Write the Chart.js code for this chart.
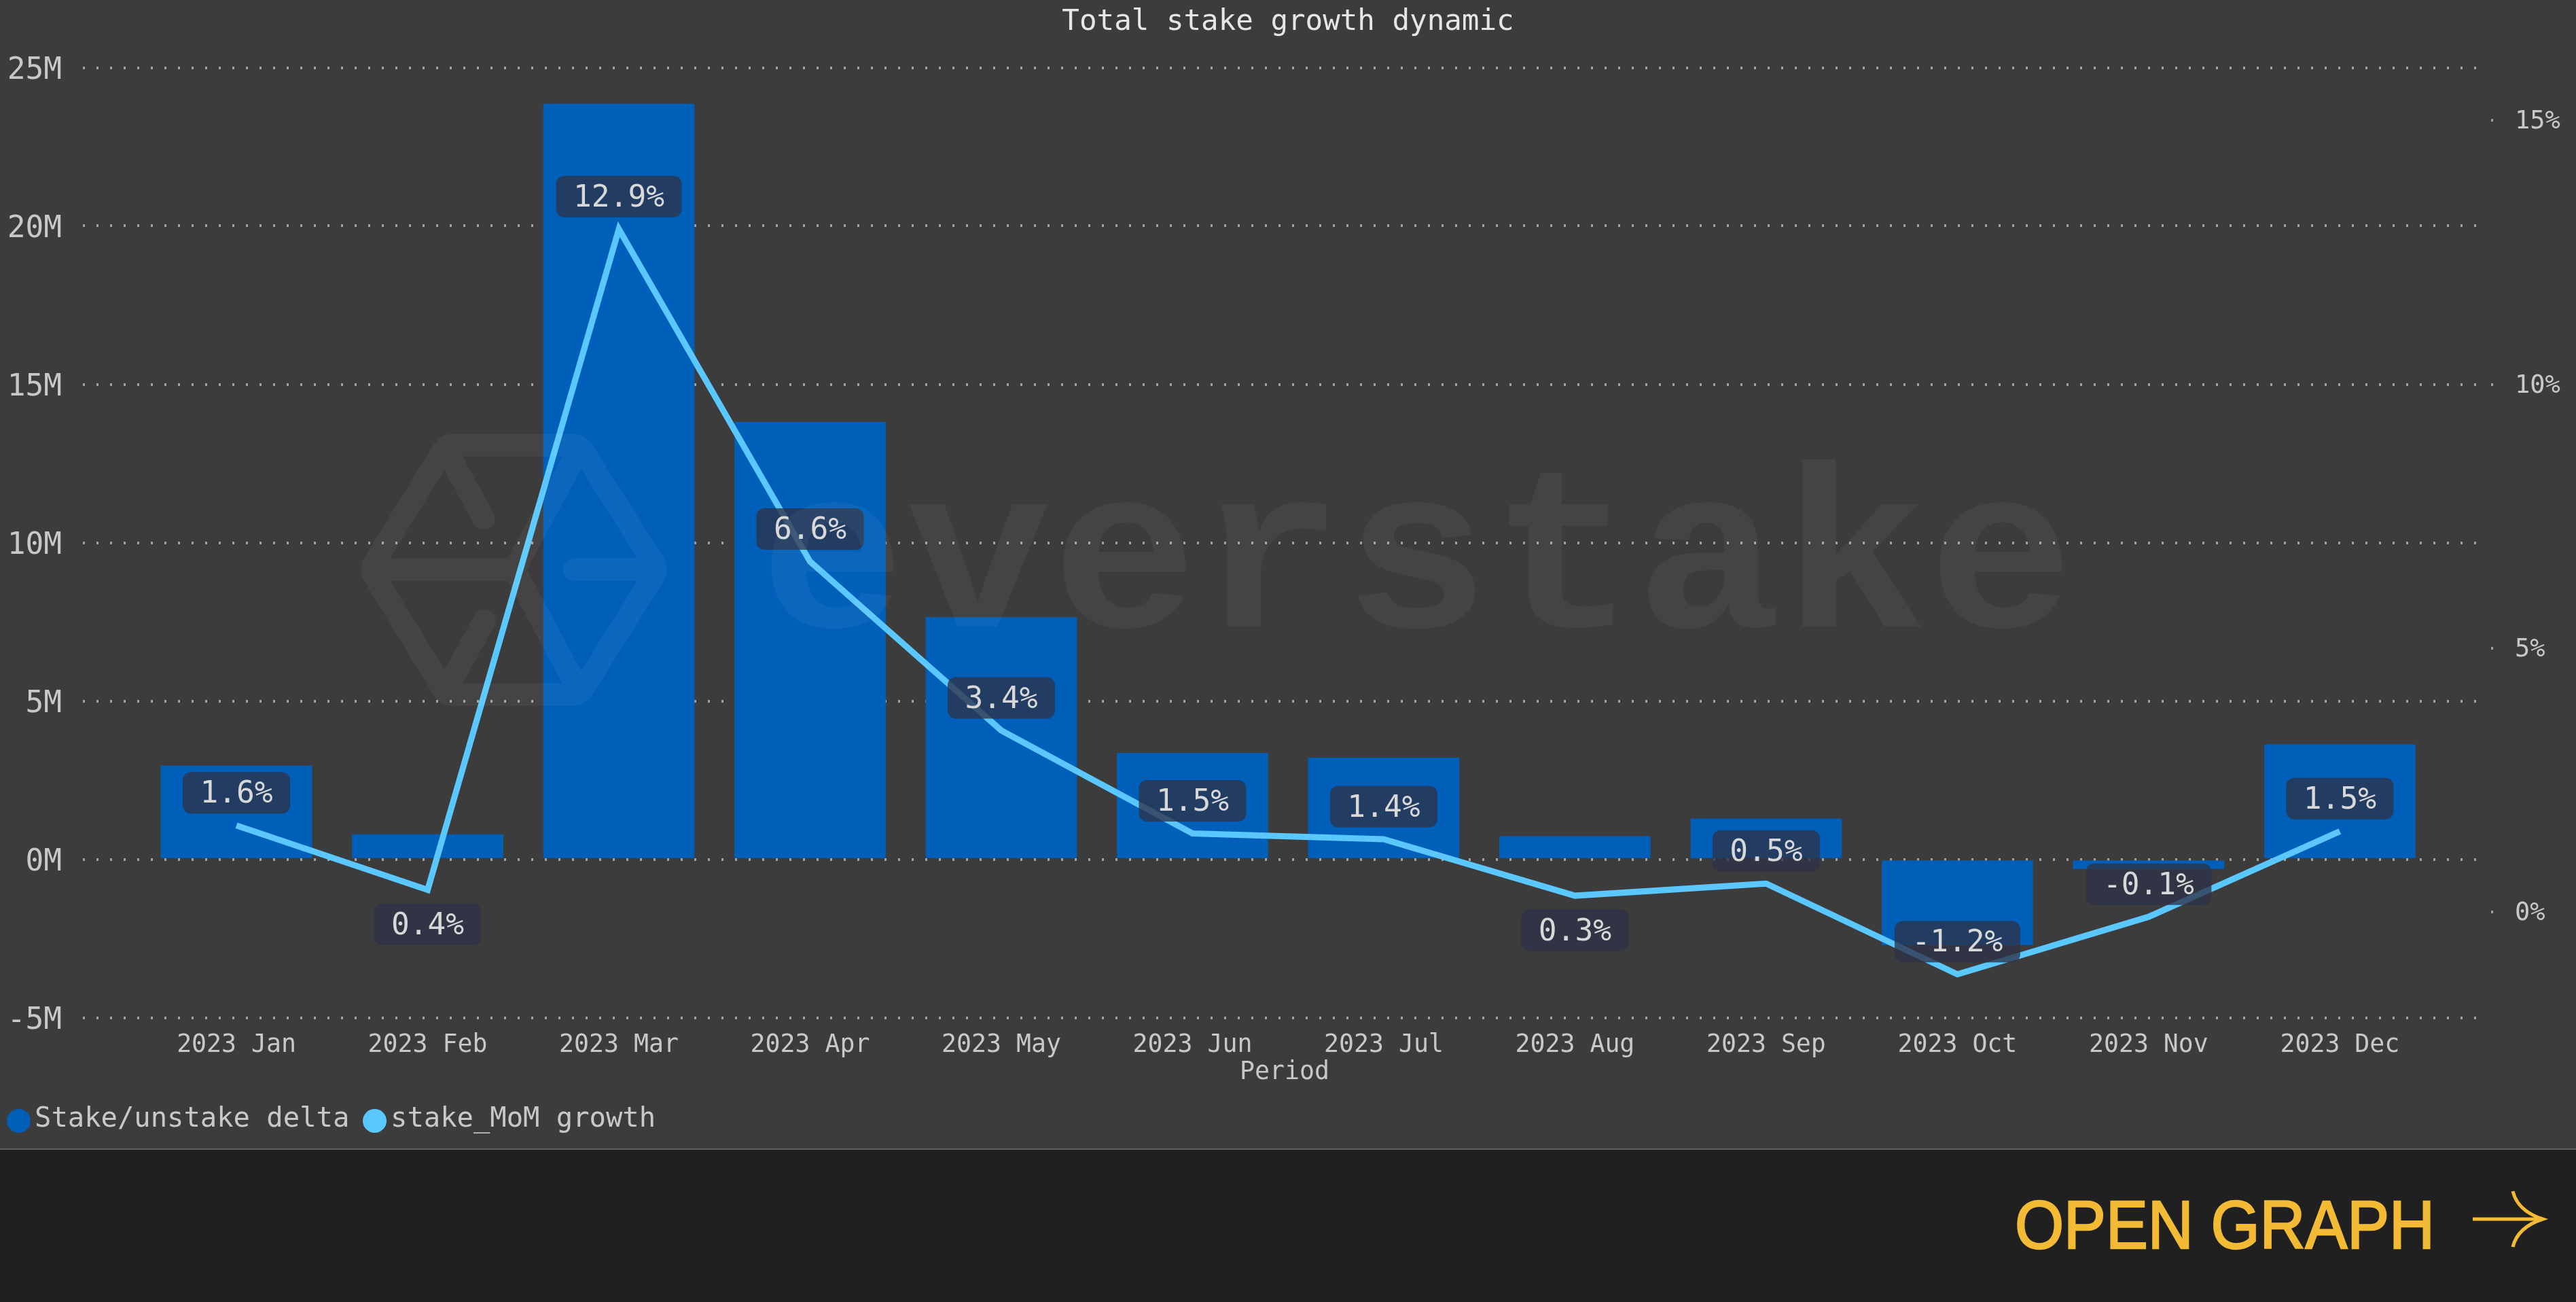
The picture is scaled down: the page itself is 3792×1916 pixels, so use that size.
<!DOCTYPE html>
<html>
<head>
<meta charset="utf-8">
<title>Total stake growth dynamic</title>
<script src="https://cdn.jsdelivr.net/npm/chart.js@4"></script>
<style>
  html, body { margin: 0; padding: 0; background: #202020; }
  #page { position: relative; width: 3792px; height: 1916px; overflow: hidden; }
  #panel { position: absolute; left: 0; top: 0; width: 3792px; height: 1690px; background: #3c3c3c; }
  #panel canvas { display: block; }
  #rule { position: absolute; left: 0; top: 1690px; width: 3792px; height: 2px; background: #5e5e5e; }
  .legend-dot { position: absolute; top: 1632px; width: 35px; height: 35px; border-radius: 50%; }
  .legend-text { position: absolute; top: 1620px; font: 40.5px/48px "DejaVu Sans Mono", monospace; color: #c8c8c8; white-space: pre; }
  #overlay { position: absolute; left: 0; top: 0; pointer-events: none; }
</style>
</head>
<body>
<div id="page">
  <div id="panel"><canvas id="stakeChart" width="3792" height="1690"></canvas></div>
  <div id="rule"></div>

  <div class="legend-dot" id="legendDotBars" style="left: 10px"></div>
  <div class="legend-text" id="legendTextBars" style="left: 51px"></div>
  <div class="legend-dot" id="legendDotLine" style="left: 534px"></div>
  <div class="legend-text" id="legendTextLine" style="left: 575px"></div>

  <svg id="overlay" width="3792" height="1916" viewBox="0 0 3792 1916">
    <!-- watermark sits above the chart, it tints bars and labels too -->
    <g opacity="0.045" fill="none" stroke="#fff" stroke-width="33" stroke-linecap="round" stroke-linejoin="round">
      <path d="M 668 655 L 842 655 Q 853 655 859 665 L 962 828 Q 968 838 962 848 L 859 1012 Q 853 1022 842 1022 L 668 1022 Q 657 1022 651 1012 L 551 848 Q 545 838 551 828 L 651 665 Q 657 655 668 655 Z"/>
      <path d="M 660 668 L 712 763"/>
      <path d="M 660 1010 L 713 913"/>
      <path d="M 550 838 L 757 838"/>
      <path d="M 853 660 L 757 838 L 853 1018"/>
      <path d="M 845 838 L 960 838"/>
    </g>
    <text x="1118" y="922" textLength="1935" lengthAdjust="spacingAndGlyphs" font-family="Liberation Mono" font-weight="700" font-size="340" fill="#fff" fill-opacity="0.045">everstake</text>

    <text x="2966" y="1837" textLength="618" lengthAdjust="spacingAndGlyphs" font-family="Liberation Sans Narrow, Liberation Sans" font-weight="400" font-size="101" fill="#f3bb35" stroke="#f3bb35" stroke-width="2.5">OPEN GRAPH</text>
    <g fill="none" stroke="#f3bb35" stroke-width="5">
      <path d="M 3640 1794 L 3743 1794"/>
      <path d="M 3699 1753 Q 3706 1782 3743 1794 Q 3706 1806 3699 1835"/>
    </g>
  </svg>
</div>

<script>
const chartTitle = 'Total stake growth dynamic';
const xAxisTitle = 'Period';

const categories = ['2023 Jan', '2023 Feb', '2023 Mar', '2023 Apr', '2023 May', '2023 Jun',
  '2023 Jul', '2023 Aug', '2023 Sep', '2023 Oct', '2023 Nov', '2023 Dec'];

// Stake/unstake delta, millions
const deltaValues = [2.95, 0.78, 23.85, 13.8, 7.64, 3.35, 3.2, 0.72, 1.28, -2.7, -0.3, 3.62];
// stake_MoM growth, percent
const growthValues = [1.64, 0.42, 12.94, 6.64, 3.44, 1.49, 1.38, 0.31, 0.54, -1.18, -0.09, 1.53];

const leftTicks = [-5, 0, 5, 10, 15, 20, 25];
const rightTicks = [0, 5, 10, 15];

const barsLabel = 'Stake/unstake delta';
const lineLabel = 'stake_MoM growth';
const labelsBelow = ['2023 Feb', '2023 Aug'];

const BAR_COLOR = '#0060b9';
const LINE_COLOR = '#5ac8ff';
const TICK_COLOR = '#c8c8c8';
const DOT_COLOR = 'rgba(205, 205, 205, 0.7)';
const MONO = '"DejaVu Sans Mono", monospace';

// legend is plain html, built-in one can't get the dot this close to the text
document.getElementById('legendDotBars').style.background = BAR_COLOR;
document.getElementById('legendDotLine').style.background = LINE_COLOR;
document.getElementById('legendTextBars').textContent = barsLabel;
document.getElementById('legendTextLine').textContent = lineLabel;

// percent pills over the line
const pillLabels = {
  id: 'pillLabels',
  afterDatasetsDraw(chart) {
    const ctx = chart.ctx;
    const points = chart.getDatasetMeta(0).data;
    ctx.save();
    ctx.font = '44.5px ' + MONO;
    ctx.textAlign = 'center';
    ctx.textBaseline = 'middle';
    points.forEach((point, i) => {
      const text = growthValues[i].toFixed(1) + '%';
      const below = labelsBelow.includes(categories[i]);
      const cy = point.y + (below ? 51 : -48);
      const w = ctx.measureText(text).width + 51;
      ctx.fillStyle = 'rgba(45, 50, 72, 0.78)';
      ctx.beginPath();
      ctx.roundRect(point.x - w / 2, cy - 30.5, w, 61, 12);
      ctx.fill();
      ctx.fillStyle = '#d8d8d8';
      ctx.fillText(text, point.x, cy + 3);
    });
    ctx.restore();
  }
};

new Chart(document.getElementById('stakeChart'), {
  type: 'bar',
  data: {
    datasets: [
      {
        type: 'line',
        label: lineLabel,
        data: growthValues.map((v, i) => ({ x: i, y: v })),
        yAxisID: 'y2',
        borderColor: LINE_COLOR,
        borderWidth: 9,
        borderJoinStyle: 'miter',
        pointRadius: 0,
        tension: 0,
        order: 0
      },
      {
        type: 'bar',
        label: barsLabel,
        data: deltaValues.map((v, i) => ({ x: i, y: v })),
        yAxisID: 'y',
        backgroundColor: BAR_COLOR,
        barThickness: 222,
        order: 1
      }
    ]
  },
  options: {
    responsive: false,
    animation: false,
    devicePixelRatio: 1,
    layout: { autoPadding: false, padding: 0 },
    plugins: {
      legend: { display: false },
      tooltip: { enabled: false },
      title: {
        display: true,
        text: chartTitle,
        color: '#e6e6e6',
        font: { family: MONO, size: 42.5, weight: 'normal' },
        padding: { top: 7.5, bottom: 41 }
      }
    },
    scales: {
      x: {
        type: 'linear',
        offset: false,
        min: -0.803,
        max: 11.766,
        afterBuildTicks: axis => { axis.ticks = categories.map((_, i) => ({ value: i })); },
        afterFit: axis => { axis.height = 192.5; },
        grid: { display: false, offset: false },
        border: { display: false },
        ticks: {
          autoSkip: false,
          maxRotation: 0,
          padding: 11,
          color: TICK_COLOR,
          font: { family: MONO, size: 36.5 },
          callback: v => categories[v]
        },
        title: {
          display: true,
          text: xAxisTitle,
          color: TICK_COLOR,
          font: { family: MONO, size: 36.5 },
          padding: { top: 0, bottom: 90 }
        }
      },
      y: {
        position: 'left',
        min: -5,
        max: 25,
        afterBuildTicks: axis => { axis.ticks = leftTicks.map(v => ({ value: v })); },
        afterFit: axis => { axis.width = 122; },
        // grid dots come from border.dash in v4
        border: { display: false, dash: [3, 17] },
        grid: {
          color: DOT_COLOR,
          lineWidth: 4,
          tickLength: 0,
          drawTicks: false
        },
        ticks: {
          padding: 31,
          color: TICK_COLOR,
          // blank first line + small lineHeight nudges the text down onto its grid line
          font: { family: MONO, size: 44.5, lineHeight: '9.6px' },
          callback: v => ['', v + 'M']
        }
      },
      y2: {
        position: 'right',
        min: -2,
        max: 16,
        afterBuildTicks: axis => { axis.ticks = rightTicks.map(v => ({ value: v })); },
        afterFit: axis => { axis.width = 132; },
        border: { display: false },
        grid: {
          drawOnChartArea: false,
          color: DOT_COLOR,
          lineWidth: 4,
          tickLength: 11,
          tickBorderDash: [3, 20],
          tickBorderDashOffset: -7
        },
        ticks: {
          padding: 31,
          color: TICK_COLOR,
          font: { family: MONO, size: 37, lineHeight: '5px' },
          callback: v => ['', v + '%']
        }
      }
    }
  },
  plugins: [pillLabels]
});
</script>
</body>
</html>
